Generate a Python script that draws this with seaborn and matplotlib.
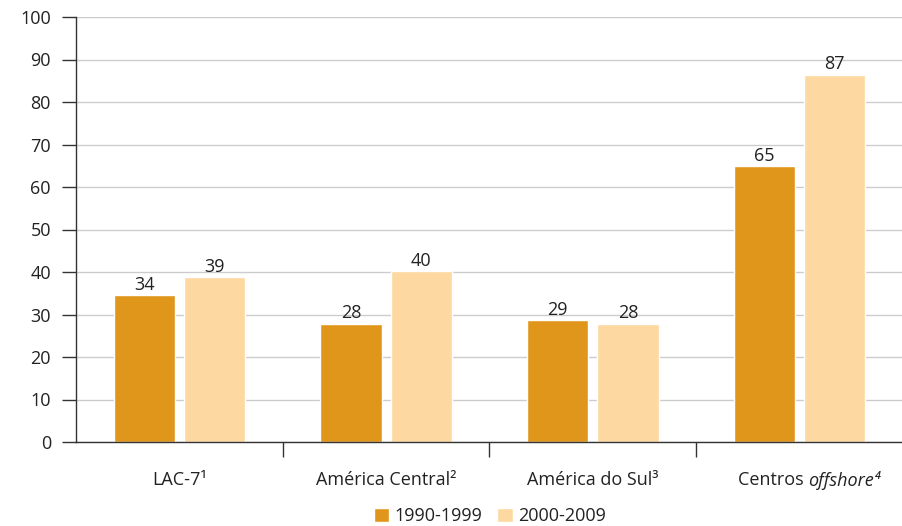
import matplotlib
matplotlib.use("Agg")
import matplotlib.pyplot as plt
import seaborn as sns
import pandas as pd
from matplotlib.patches import Patch

categories = ["LAC-7¹", "América Central²", "América do Sul³", "Centros offshore⁴"]
periods = ["1990-1999", "2000-2009"]
vals_1990 = [34.6, 27.8, 28.7, 64.9]
vals_2000 = [38.8, 40.2, 27.8, 86.4]
labels_1990 = ["34", "28", "29", "65"]
labels_2000 = ["39", "40", "28", "87"]
colors = ["#E0961A", "#FDD8A0"]

df = pd.DataFrame({
    "cat": categories * 2,
    "period": [periods[0]] * 4 + [periods[1]] * 4,
    "val": vals_1990 + vals_2000,
})

sns.set_theme(style="white")
plt.rcParams["font.family"] = ["Open Sans", "DejaVu Sans"]
FS = 13
TC = "#222222"

fig = plt.figure(figsize=(9.03, 5.26), dpi=100)
ax = fig.add_axes([76 / 903, 1 - 442 / 526, 1 - 76 / 903, 425 / 526])

sns.barplot(data=df, x="cat", y="val", hue="period", palette=colors,
            width=0.68, gap=0.13, ax=ax, legend=False, saturation=1)

for cont, labs in zip(ax.containers, [labels_1990, labels_2000]):
    ax.bar_label(cont, labels=labs, padding=1, fontsize=FS, color=TC)

ax.set_ylim(0, 100)
ax.set_xlim(-0.5, 3.5)
ax.set_yticks(range(0, 101, 10))
ax.yaxis.grid(True, color="#cccccc", linewidth=1)
ax.set_axisbelow(True)
ax.set_xlabel("")
ax.set_ylabel("")

for s in ["top", "right"]:
    ax.spines[s].set_visible(False)
ax.spines["left"].set_color("#333333")
ax.spines["bottom"].set_color("#333333")
ax.spines["left"].set_linewidth(1)
ax.spines["bottom"].set_linewidth(1)

ax.tick_params(axis="y", length=10, width=1, color="#333333", pad=8,
               labelsize=FS, labelcolor=TC, left=True)
ax.set_xticks(range(4))
ax.set_xticklabels([])
ax.set_xticks([0.5, 1.5, 2.5], minor=True)
ax.tick_params(axis="x", which="major", length=0)
ax.tick_params(axis="x", which="minor", length=11, width=1, color="#333333", bottom=True)

ty = -38 / 425
for i, c in enumerate(categories):
    if i == 3:
        ax.text(i + 0.04, ty, "Centros ", transform=ax.get_xaxis_transform(),
                ha="right", va="center", fontsize=FS, color=TC)
        ax.text(i + 0.04, ty, "offshore⁴", transform=ax.get_xaxis_transform(),
                ha="left", va="center", fontsize=FS, color=TC, style="italic")
    else:
        ax.text(i, ty, c, transform=ax.get_xaxis_transform(),
                ha="center", va="center", fontsize=FS, color=TC)

handles = [Patch(facecolor=colors[0], label=periods[0]),
           Patch(facecolor=colors[1], label=periods[1])]
fig.legend(handles=handles, loc="center", bbox_to_anchor=(490 / 903, 1 - 516 / 526),
           ncol=2, frameon=False, fontsize=FS, handlelength=0.85, handleheight=0.85,
           handletextpad=0.3, columnspacing=0.8, borderaxespad=0, labelcolor=TC)

fig.savefig("out.png", dpi=100)
